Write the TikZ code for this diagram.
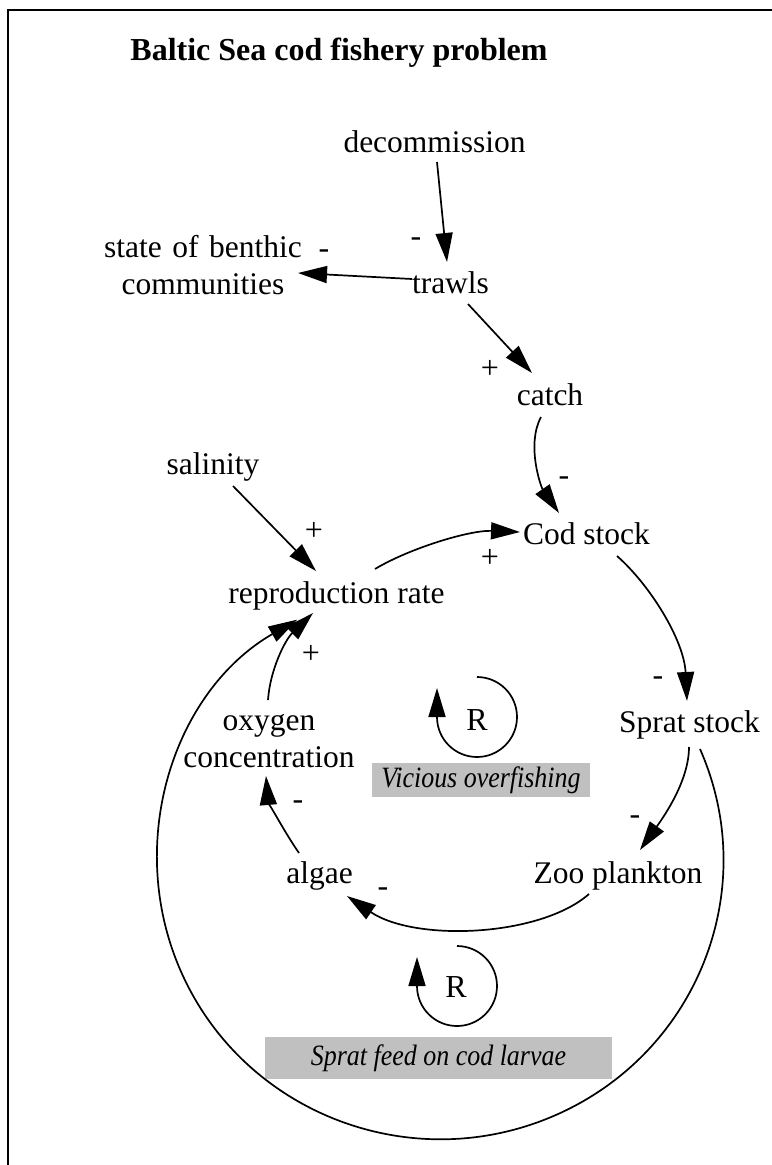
\documentclass[tikz,border=0pt]{standalone}
\usepackage{fontspec}
\setmainfont{Liberation Serif}
\newfontfamily\tagfont{Liberation Serif}[FakeStretch=0.88]
\usetikzlibrary{arrows.meta,calc}
\definecolor{tagGray}{RGB}{192,192,192}

\tikzset{
  lbl/.style={font=\fontsize{31.5bp}{37.5bp}\selectfont, inner sep=0pt, anchor=base},
  twoline/.style={lbl, text width=220bp, align=center},
  headline/.style={font=\fontsize{32bp}{38bp}\selectfont\bfseries, inner sep=0pt, anchor=base},
  sgn/.style={font=\fontsize{32bp}{34bp}\selectfont, inner sep=0pt},
  loopname/.style={font=\fontsize{32bp}{34bp}\selectfont, inner sep=0pt, anchor=base},
  tag/.style={fill=tagGray, font=\tagfont\fontsize{29.5bp}{32bp}\selectfont\itshape, inner sep=0pt},
  arr/.style={line width=1.7bp, -{Triangle[length=29bp,width=17bp]}},
  frame/.style={line width=2.5bp}
}

\begin{document}
\begin{tikzpicture}[x=1bp, y=-1bp]
  \path[use as bounding box] (0,0) rectangle (772,1165);
  \clip (0,0) rectangle (772,1165);
  \draw[frame] (8,10) rectangle (900,1300);

  % title
  \node[headline] (title) at (339,60) {Baltic Sea cod fishery problem};

  % variables
  \node[lbl] (decom) at (434.5,152) {decommission};
  \node[twoline] (benthic) at (203,257) {state of benthic\\communities};
  \node[lbl] (trawls) at (450.5,293) {trawls};
  \node[lbl] (catch) at (550,405) {catch};
  \node[lbl] (salinity) at (213,474) {salinity};
  \node[lbl] (cod) at (586.5,544) {Cod stock};
  \node[lbl] (repro) at (336.5,603) {reproduction rate};
  \node[twoline] (oxygen) at (269,730) {oxygen\\concentration};
  \node[lbl] (sprat) at (689.5,732) {Sprat stock};
  \node[lbl] (algae) at (319.5,883) {algae};
  \node[lbl] (zoo) at (618,883) {Zoo plankton};

  % loop markers and their captions
  \node[loopname] (r1) at (477,730) {R};
  \node[loopname] (r2) at (456,997) {R};
  \node[tag, minimum width=218bp, minimum height=34bp] (vicious) at (481,780) {Vicious overfishing};
  \node[tag, minimum width=347bp, minimum height=42bp] (spratfeed) at (438.5,1058) {Sprat feed on cod larvae};

  % polarity signs
  \node[sgn] (p1) at (416,242) {-};
  \node[sgn] (p2) at (324,254) {-};
  \node[sgn] (p3) at (490,369) {+};
  \node[sgn] (p4) at (564,481) {-};
  \node[sgn] (p5) at (314,531) {+};
  \node[sgn] (p6) at (490,558) {+};
  \node[sgn] (p7) at (311,654) {+};
  \node[sgn] (p8) at (658,681) {-};
  \node[sgn] (p9) at (635,820) {-};
  \node[sgn] (p10) at (298,805) {-};
  \node[sgn] (p11) at (383,892) {-};

  % causal links
  \draw[arr] ($(decom.base)+(2.5,10)$) -- ($(trawls.base)+(-3.5,-31)$);
  \draw[arr] ($(trawls.base)+(-38.5,-14)$) -- ($(benthic.base)+(95,16)$);
  \draw[arr] ($(trawls.base)+(17.5,11)$) -- ($(catch.base)+(-18,-32)$);
  \draw[arr] ($(catch.base)+(-9,12)$) .. controls (526,445) and (541,487) .. ($(cod.base)+(-27.5,-31)$);
  \draw[arr] ($(salinity.base)+(20,12)$) -- ($(repro.base)+(-20.5,-32)$);
  \draw[arr] ($(repro.base)+(38.5,-34)$) .. controls (410,548) and (470,530) .. ($(cod.base)+(-66.5,-12)$);
  \draw[arr] ($(cod.base)+(30.5,12)$) .. controls (650,585) and (684,640) .. ($(sprat.base)+(-2.5,-31)$);
  \draw[arr] ($(sprat.base)+(-0.5,15)$) .. controls (689,780) and (665,815) .. ($(zoo.base)+(22,-33)$);
  \draw[arr] ($(zoo.base)+(-29,11)$) .. controls (540,937) and (415,942) .. ($(algae.base)+(27.5,13)$);
  \draw[arr] ($(algae.base)+(-20.5,-30)$) .. controls (283,830) and (268,800) .. ($(oxygen.base)+(-3,46)$);
  \draw[arr] ($(oxygen.base)+(-1,-30)$) .. controls (270,670) and (285,640) .. ($(repro.base)+(-23.5,10)$);
  \draw[arr] ($(sprat.base)+(10.5,17)$) arc[start angle=-23.5, end angle=239.6, x radius=283, y radius=279];

  % loop direction arrows
  \draw[arr] ($(r1.base)+(0,-53)$) arc[start angle=-90, end angle=180, radius=40] -- ++(0,-29);
  \draw[arr] ($(r2.base)+(1,-51)$) arc[start angle=-90, end angle=180, radius=40] -- ++(0,-29);
\end{tikzpicture}
\end{document}
